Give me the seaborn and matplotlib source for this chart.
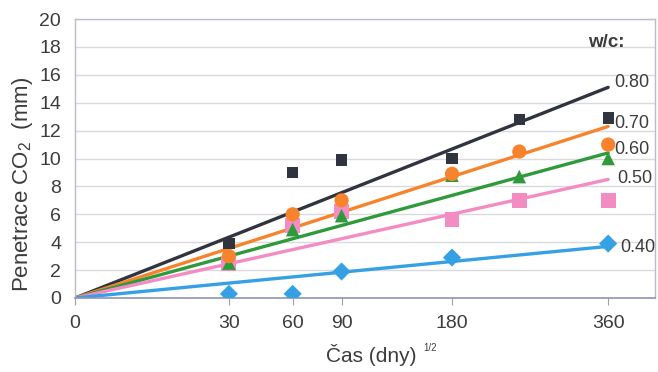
import numpy as np
import pandas as pd
import matplotlib
matplotlib.use("Agg")
import matplotlib.pyplot as plt
import seaborn as sns

# Exposure times (days) and measured carbonation depth per w/c ratio
days = [30, 60, 90, 180, 250, 360]
wc_labels = ["0.80", "0.70", "0.60", "0.50", "0.40"]
depth_080 = [3.9, 9.0, 9.9, 10.0, 12.8, 12.9]
depth_070 = [3.0, 6.0, 7.0, 8.9, 10.5, 11.0]
depth_060 = [2.5, 4.9, 5.9, 8.8, 8.7, 10.0]
depth_050 = [2.5, 5.2, 6.2, 5.6, 7.0, 7.0]
depth_040 = [0.3, 0.3, 1.9, 2.9, None, 3.9]
# Fitted depth at 360 days (lines pass through the origin in sqrt(t))
fit_at_360 = [15.1, 12.3, 10.4, 8.5, 3.7]

xtick_days = [0, 30, 60, 90, 180, 360]
ytick_vals = list(range(0, 21, 2))

series = [depth_080, depth_070, depth_060, depth_050, depth_040]
colors = ["#30343f", "#f7842c", "#2f9a3c", "#f48cc4", "#35a0e4"]
markers = ["s", "o", "^", "s", "D"]
msizes = [66, 105, 95, 115, 85]

sns.set_theme(style="white")
plt.rcParams["font.family"] = ["Liberation Sans", "DejaVu Sans"]

TXT = "#3c3c3c"

fig = plt.figure(figsize=(6.58, 3.72), dpi=100)
ax = fig.add_axes([75 / 658, (372 - 298) / 372, 580 / 658, 279 / 372])

# horizontal grid
for v in ytick_vals[1:]:
    ax.axhline(v, color="#d9d9de", lw=1.0, zorder=0)

# fitted lines
for lab, val, col in zip(wc_labels, fit_at_360, colors):
    line_df = pd.DataFrame({"x": [0.0, np.sqrt(360)], "y": [0.0, val]})
    sns.lineplot(data=line_df, x="x", y="y", color=col, lw=2.4, ax=ax,
                 zorder=2, legend=False)

# measured points (green sits over pink, dark over all)
order = [4, 3, 2, 1, 0]
for i in order:
    pts = pd.DataFrame({"x": np.sqrt(days), "y": series[i]}).dropna()
    sns.scatterplot(data=pts, x="x", y="y", color=colors[i], marker=markers[i],
                    s=msizes[i], edgecolor="none", ax=ax, zorder=3 + (4 - i),
                    legend=False)

ax.set_xlim(0, 580 / 28.1)
ax.set_ylim(0, 20)
ax.set_xticks(np.sqrt(xtick_days))
ax.set_xticklabels([str(d) for d in xtick_days])
ax.set_yticks(ytick_vals)
ax.tick_params(axis="x", direction="out", length=5, width=0.8, color="#9aa0b8",
               labelsize=14, labelcolor=TXT, pad=7, bottom=True)
ax.tick_params(axis="y", length=0, labelsize=14, labelcolor=TXT, pad=10)

for side in ["left", "top", "right"]:
    ax.spines[side].set_color("#b8bccb")
    ax.spines[side].set_linewidth(1.0)
ax.spines["bottom"].set_color("#8c93b3")
ax.spines["bottom"].set_linewidth(1.2)

ax.set_xlabel("")
ax.set_ylabel("")
fig.text(371 / 658, 1 - 355 / 372, "Čas (dny)", fontsize=15, color=TXT,
         ha="center", va="center")
fig.text(423 / 658, 1 - 348 / 372, "1/2", fontsize=7, color=TXT,
         ha="left", va="center")
fig.text(23 / 658, 1 - 184 / 372, "Penetrace CO$_\\mathregular{2}$  (mm)",
         fontsize=16, color=TXT, rotation=90, ha="center", va="center")

# series labels at the right end of the lines
label_y = [15.45, 12.5, 10.65, 8.6, 3.62]
label_dx = [0.2, 0.2, 0.2, 0.32, 0.42]
for lab, yv, dx in zip(wc_labels, label_y, label_dx):
    ax.text(np.sqrt(360) + dx, yv, lab, fontsize=13, color=TXT,
            va="center", ha="left", clip_on=False)
ax.text(np.sqrt(360) - 0.72, 18.35, "w/c:", fontsize=13.5, color=TXT,
        fontweight="bold", va="center", ha="left")

fig.savefig("out.png", dpi=100)
